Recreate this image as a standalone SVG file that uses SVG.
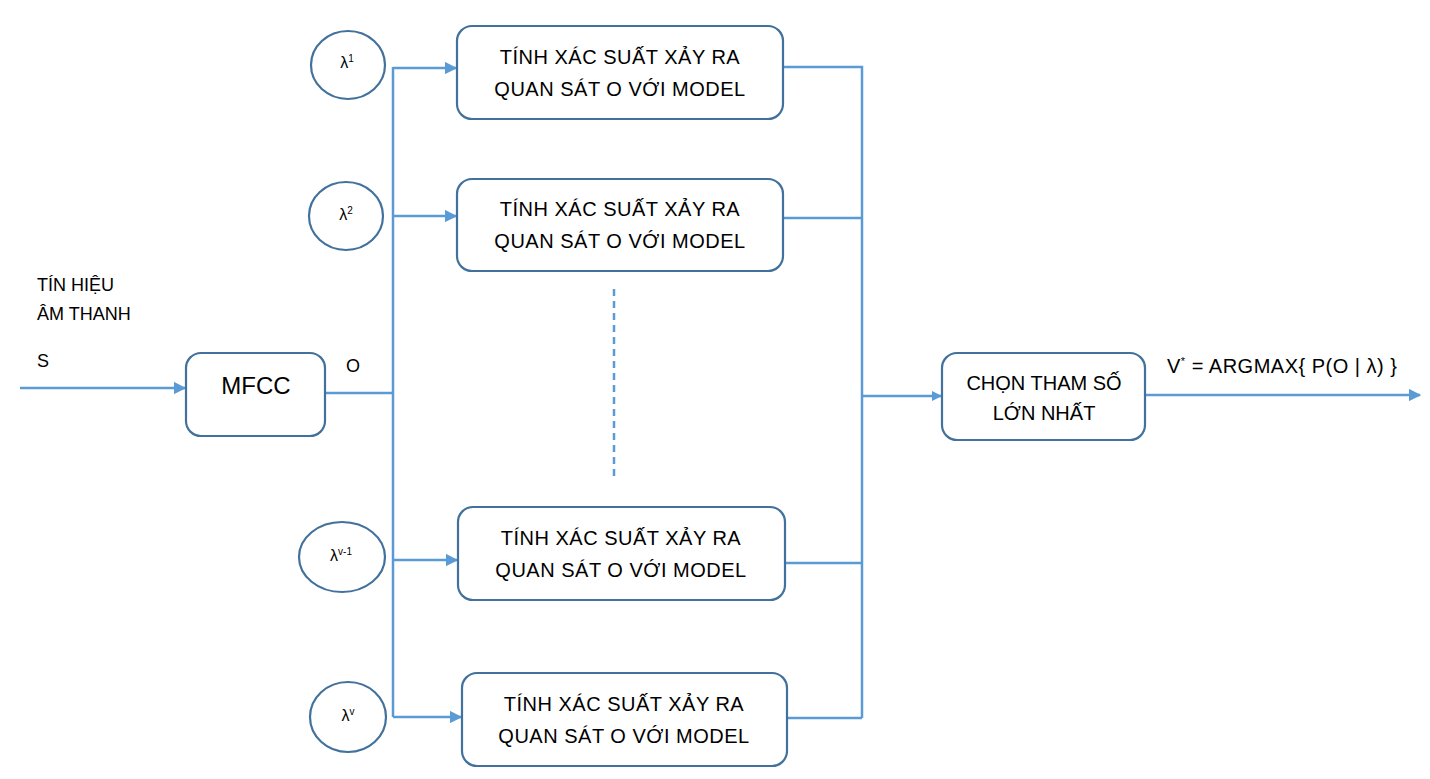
<svg xmlns="http://www.w3.org/2000/svg" width="1430" height="779" viewBox="0 0 1430 779">
<style>
.box{fill:#fff;stroke:#41719C;stroke-width:2.2}
.ell{fill:#fff;stroke:#41719C;stroke-width:2.2}
.ln{fill:none;stroke:#5B9BD5;stroke-width:2.5}
.t{font-family:"Liberation Sans",Arial,sans-serif;fill:#000}
.bt{font-size:20px;text-anchor:middle}
.bt2{font-size:20px;text-anchor:middle;letter-spacing:0.5px}
.lam{font-size:16px;text-anchor:middle}
.sup{font-size:10px}
</style>
<defs>
<marker id="ah" viewBox="0 0 10 10" refX="9" refY="5" markerWidth="5" markerHeight="5" orient="auto" markerUnits="strokeWidth">
<path d="M0,0 L10,5 L0,10 z" fill="#5B9BD5"/>
</marker>
<marker id="ah2" viewBox="0 0 10 10" refX="9" refY="5" markerWidth="4" markerHeight="4" orient="auto" markerUnits="strokeWidth">
<path d="M0,0 L10,5 L0,10 z" fill="#5B9BD5"/>
</marker>
</defs>
<g id="connectors">
<line class="ln" x1="20" y1="388" x2="185" y2="388" marker-end="url(#ah)"/>
<polyline class="ln" points="325,393 393,393"/>
<line class="ln" x1="393" y1="67" x2="393" y2="717"/>
<line class="ln" x1="393" y1="68" x2="456" y2="68" marker-end="url(#ah)"/>
<line class="ln" x1="393" y1="216" x2="456" y2="216" marker-end="url(#ah)"/>
<line class="ln" x1="393" y1="560" x2="457" y2="560" marker-end="url(#ah)"/>
<line class="ln" x1="393" y1="717" x2="461" y2="717" marker-end="url(#ah)"/>
<polyline class="ln" points="783,67 862,67 862,718"/>
<line class="ln" x1="783" y1="218" x2="862" y2="218"/>
<line class="ln" x1="785" y1="563" x2="862" y2="563"/>
<line class="ln" x1="787" y1="718" x2="862" y2="718"/>
<line class="ln" x1="862" y1="396" x2="941" y2="396" stroke-width="3.5" marker-end="url(#ah2)"/>
<line class="ln" x1="1145" y1="395" x2="1420" y2="395" marker-end="url(#ah)"/>
<line class="ln" x1="614" y1="289" x2="614" y2="477" stroke-width="2" stroke-dasharray="7,5"/>
</g>
<g id="lambda1">
<ellipse class="ell" cx="348" cy="65" rx="37" ry="34"/>
<text class="t lam" x="347" y="68">λ<tspan class="sup" dy="-6">1</tspan></text>
</g>
<g id="lambda2">
<ellipse class="ell" cx="346" cy="216" rx="37" ry="34"/>
<text class="t lam" x="346" y="220">λ<tspan class="sup" dy="-6">2</tspan></text>
</g>
<g id="lambdav1">
<ellipse class="ell" cx="342" cy="557" rx="43" ry="35"/>
<text class="t lam" x="341" y="561">λ<tspan class="sup" dy="-6">v-1</tspan></text>
</g>
<g id="lambdav">
<ellipse class="ell" cx="348" cy="717" rx="38" ry="35"/>
<text class="t lam" x="348" y="721">λ<tspan class="sup" dy="-6">v</tspan></text>
</g>
<g id="box1">
<rect class="box" x="457" y="26" width="326" height="93" rx="15"/>
<text class="t bt2" x="620" y="64">TÍNH XÁC SUẤT XẢY RA</text>
<text class="t bt2" x="620" y="96">QUAN SÁT O VỚI MODEL</text>
</g>
<g id="box2">
<rect class="box" x="457" y="179" width="326" height="92" rx="15"/>
<text class="t bt2" x="620" y="216">TÍNH XÁC SUẤT XẢY RA</text>
<text class="t bt2" x="620" y="248">QUAN SÁT O VỚI MODEL</text>
</g>
<g id="box3">
<rect class="box" x="458" y="507" width="327" height="93" rx="15"/>
<text class="t bt2" x="621" y="545">TÍNH XÁC SUẤT XẢY RA</text>
<text class="t bt2" x="621" y="577">QUAN SÁT O VỚI MODEL</text>
</g>
<g id="box4">
<rect class="box" x="462" y="673" width="325" height="93" rx="15"/>
<text class="t bt2" x="624" y="711">TÍNH XÁC SUẤT XẢY RA</text>
<text class="t bt2" x="624" y="743">QUAN SÁT O VỚI MODEL</text>
</g>
<g id="mfcc">
<rect class="box" x="186" y="353" width="139" height="83" rx="15"/>
<text class="t" x="256" y="394" font-size="24" text-anchor="middle">MFCC</text>
</g>
<g id="choose">
<rect class="box" x="942" y="353" width="203" height="87" rx="15"/>
<text class="t bt" x="1044" y="390">CHỌN THAM SỐ</text>
<text class="t bt" x="1044" y="420">LỚN NHẤT</text>
</g>
<g id="labels">
<text class="t" x="37" y="291" font-size="18">TÍN HIỆU</text>
<text class="t" x="37" y="320" font-size="18">ÂM THANH</text>
<text class="t" x="37" y="367" font-size="18">S</text>
<text class="t" x="346" y="372" font-size="18">O</text>
<text class="t" x="1167" y="373" font-size="20" letter-spacing="0.5">V<tspan font-size="11" dy="-8">*</tspan><tspan dy="8"> = ARGMAX{ P(O | λ) }</tspan></text>
</g>
</svg>
